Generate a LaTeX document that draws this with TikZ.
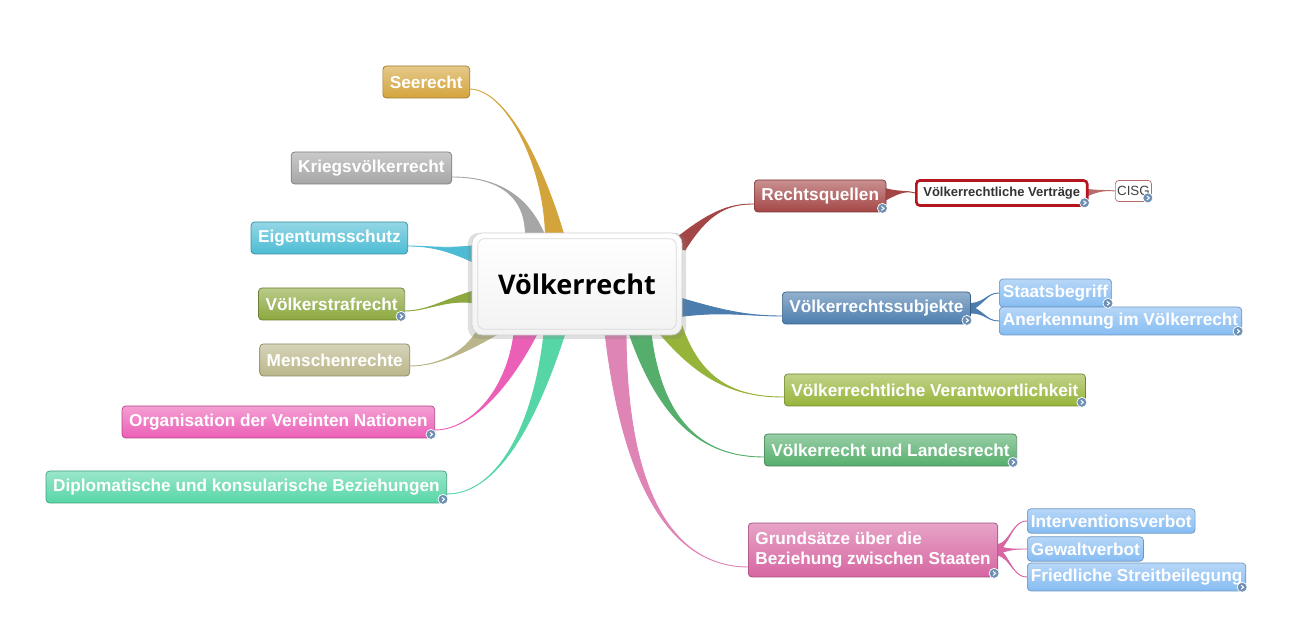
\documentclass[tikz,border=0pt]{standalone}
\usepackage{fontspec}
\setmainfont{Liberation Sans}
\newfontfamily\titlefont{Open Sans}
\usetikzlibrary{calc, backgrounds, shadows}

\definecolor{seecol}{HTML}{D4A43C}
\definecolor{kriegcol}{HTML}{A6A6A6}
\definecolor{eigencol}{HTML}{4CBCD4}
\definecolor{strafcol}{HTML}{8CA83E}
\definecolor{menschcol}{HTML}{BAB68A}
\definecolor{unocol}{HTML}{EC5FB6}
\definecolor{diplocol}{HTML}{56D6A6}
\definecolor{quellcol}{HTML}{A54646}
\definecolor{vertragcol}{HTML}{B3161C}
\definecolor{subjcol}{HTML}{4B7DAE}
\definecolor{kindcol}{HTML}{86BCF2}
\definecolor{verantcol}{HTML}{97B43A}
\definecolor{landcol}{HTML}{55AE6C}
\definecolor{grundcol}{HTML}{D766A2}
\definecolor{iconcol}{HTML}{6E8FB4}

\tikzset{
	topic/.style = {rectangle, rounded corners = 2pt, draw = #1!75!black,
		top color = #1!60!white, bottom color = #1, text = white,
		font = \bfseries\fontsize{9.8}{11.4}\selectfont,
		inner xsep = 4pt, minimum height = 0.64 cm},
	subtopic/.style = {topic = #1, draw = #1!80!black,
		font = \bfseries\fontsize{9.8}{11}\selectfont,
		inner xsep = 2pt, minimum height = 0.48 cm},
	centre/.style = {rectangle, rounded corners = 6pt, draw = gray!35,
		top color = white, bottom color = gray!10,
		font = \titlefont\bfseries\fontsize{15.4}{18}\selectfont,
		minimum width = 4.2 cm, minimum height = 2.04 cm}
}

% Ribbon: colour, start A, start B, control 1, control 2, end
\newcommand{\ribbon}[6]{%
	\filldraw [#1, line width = 0.5pt] (#2) .. controls (#4) and (#5) .. (#6)
		.. controls (#5) and (#4) .. (#3) -- cycle;}

% Small round expander icon at the lower right corner of a node
\newcommand{\expander}[1]{%
	\fill [iconcol, draw = white, line width = 0.4pt] ($(#1.south east)+(-4,-4)$) circle [radius = 0.1 cm];
	\draw [white, line width = 0.6pt] ($(#1.south east)+(-5,-6)$) -- ($(#1.south east)+(-2.5,-4)$) -- ($(#1.south east)+(-5,-2)$);}

\begin{document}
\begin{tikzpicture}[x = 0.02 cm, y = -0.02 cm]

	\useasboundingbox (0, 0) rectangle (1296, 617);

	% Central topic

	\node [centre, drop shadow = {opacity = 0.25, shadow xshift = 0pt, shadow yshift = -1pt, shadow scale = 1.04}] (vr) at (577, 284) {Völkerrecht};
	\draw [gray!30, rounded corners = 4pt] ($(vr.south west)+(6,-6)$) rectangle ($(vr.north east)+(-6,6)$);

	% Left branches

	\node [topic = seecol, anchor = east] (see) at (470, 82) {Seerecht};
	\node [topic = kriegcol, anchor = east] (krieg) at (452, 168) {Kriegsvölkerrecht};
	\node [topic = eigencol, anchor = east] (eigen) at (408, 238) {Eigentumsschutz};
	\node [topic = strafcol, anchor = east] (straf) at (405, 304) {Völkerstrafrecht};
	\node [topic = menschcol, anchor = east] (mensch) at (410, 360) {Menschenrechte};
	\node [topic = unocol, anchor = east] (uno) at (435, 422) {Organisation der Vereinten Nationen};
	\node [topic = diplocol, anchor = east] (diplo) at (447, 487) {Diplomatische und konsularische Beziehungen};

	% Right branches

	\node [topic = quellcol, anchor = west] (quellen) at (754, 196) {Rechtsquellen};
	\node [topic = subjcol, anchor = west] (subj) at (782, 308) {Völkerrechtssubjekte};
	\node [topic = verantcol, anchor = west] (verant) at (784, 390) {Völkerrechtliche Verantwortlichkeit};
	\node [topic = landcol, anchor = west] (landes) at (764, 450) {Völkerrecht und Landesrecht};
	\node [topic = grundcol, anchor = west, align = left, minimum height = 1.08 cm] (grund) at (748, 550) {Grundsätze über die\\Beziehung zwischen Staaten};

	% Sub topics

	\node [rectangle, rounded corners = 2pt, draw = vertragcol, line width = 1.5pt, fill = white, text = black!80,
		font = \bfseries\fontsize{7.4}{9}\selectfont, anchor = west, minimum height = 0.5 cm, inner xsep = 4pt] (vertrag) at (915, 193) {Völkerrechtliche Verträge};
	\node [rectangle, rounded corners = 2pt, draw = quellcol!80, fill = white, text = black!75,
		font = \fontsize{7.6}{9}\selectfont, anchor = west, minimum height = 0.38 cm, inner xsep = 1pt] (cisg) at (1115, 191) {CISG};

	\node [subtopic = kindcol, anchor = west] (staat) at (999, 293) {Staatsbegriff};
	\node [subtopic = kindcol, anchor = west] (anerk) at (999, 321) {Anerkennung im Völkerrecht};

	\node [subtopic = kindcol, anchor = west] (interv) at (1027, 521) {Interventionsverbot};
	\node [subtopic = kindcol, anchor = west] (gewalt) at (1027, 549) {Gewaltverbot};
	\node [subtopic = kindcol, anchor = west] (streit) at (1027, 577) {Friedliche Streitbeilegung};

	% Ribbons

	\begin{scope}[on background layer]
		\ribbon{seecol}{$(vr)+(-32,-34)$}{$(vr)+(-9,-34)$}{550, 180}{510, 90}{$(see.east)+(0,7)$}
		\ribbon{kriegcol}{$(vr)+(-52,-40)$}{$(vr)+(-29,-40)$}{530, 190}{490, 177}{$(krieg.east)+(0,9)$}
		\ribbon{eigencol}{$(vr)+(-92,-40)$}{$(vr)+(-92,-16)$}{450, 250}{430, 246}{$(eigen.east)+(0,8)$}
		\ribbon{strafcol}{$(vr)+(-92,4)$}{$(vr)+(-92,21)$}{450, 296}{430, 311}{$(straf.east)+(0,7)$}
		\ribbon{menschcol}{$(vr)+(-97,40)$}{$(vr)+(-72,46)$}{470, 350}{440, 366}{$(mensch.east)+(0,6)$}
		\ribbon{unocol}{$(vr)+(-62,40)$}{$(vr)+(-35,40)$}{510, 390}{470, 430}{$(uno.east)+(0,8)$}
		\ribbon{diplocol}{$(vr)+(-32,40)$}{$(vr)+(-9,40)$}{535, 430}{495, 494}{$(diplo.east)+(0,7)$}

		\ribbon{quellcol}{$(vr)+(91,-39)$}{$(vr)+(108,-34)$}{710, 210}{730, 204}{$(quellen.west)+(0,8)$}
		\ribbon{subjcol}{$(vr)+(93,11)$}{$(vr)+(93,34)$}{720, 310}{745, 316}{$(subj.west)+(0,8)$}
		\ribbon{verantcol}{$(vr)+(75,40)$}{$(vr)+(103,36)$}{700, 385}{740, 397}{$(verant.west)+(0,7)$}
		\ribbon{landcol}{$(vr)+(49,40)$}{$(vr)+(73,40)$}{660, 430}{710, 457}{$(landes.west)+(0,7)$}
		\ribbon{grundcol!80!white}{$(vr)+(27,40)$}{$(vr)+(49,40)$}{625, 520}{690, 567}{$(grund.west)+(0,17)$}

		\ribbon{quellcol}{$(quellen.east)+(-6,-9)$}{$(quellen.east)+(-6,7)$}{898, 193}{905, 190}{vertrag.west}
		\ribbon{quellcol!80}{$(vertrag.east)+(-4,-4)$}{$(vertrag.east)+(-4,4)$}{1098, 191}{1104, 190}{cisg.west}

		\ribbon{subjcol}{$(subj.east)+(-8,-5)$}{$(subj.east)+(-8,6)$}{985, 306}{985, 293}{staat.west}
		\ribbon{subjcol}{$(subj.east)+(-8,-5)$}{$(subj.east)+(-8,6)$}{985, 310}{985, 321}{anerk.west}

		\ribbon{grundcol}{$(grund.east)+(-8,-6)$}{$(grund.east)+(-8,6)$}{1010, 550}{1010, 521}{interv.west}
		\ribbon{grundcol}{$(grund.east)+(-8,-6)$}{$(grund.east)+(-8,6)$}{1010, 550}{1010, 549}{gewalt.west}
		\ribbon{grundcol}{$(grund.east)+(-8,-6)$}{$(grund.east)+(-8,6)$}{1010, 550}{1010, 577}{streit.west}
	\end{scope}

	% Expander icons

	\foreach \n in {straf, uno, diplo, quellen, vertrag, cisg, subj, staat, anerk, verant, landes, grund, streit}
		{\expander{\n}}

\end{tikzpicture}
\end{document}
